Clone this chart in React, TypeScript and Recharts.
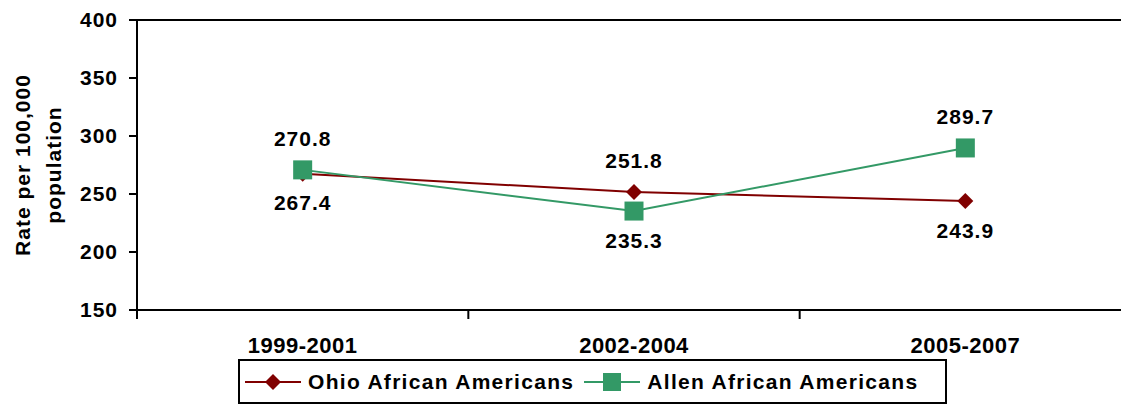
import React from 'react';
import {
  LineChart,
  Line,
  XAxis,
  YAxis,
  ReferenceLine,
  LabelList,
} from 'recharts';

const periods = ['1999-2001', '2002-2004', '2005-2007'];
const ohioRates = [267.4, 251.8, 243.9];
const allenRates = [270.8, 235.3, 289.7];
const ohioLabelSide = ['below', 'above', 'below'];
const allenLabelSide = ['above', 'below', 'above'];
const yTicks = [150, 200, 250, 300, 350, 400];
const seriesNames = ['Ohio African Americans', 'Allen African Americans'];

const OHIO = '#800000';
const ALLEN = '#339966';
const FONT = '"Liberation Sans", Arial, sans-serif';

const data = periods.map((p, i) => ({ x: i, ohio: ohioRates[i], allen: allenRates[i] }));
// band edges get a tick mark, band centres get the period label
const xTicks = [-0.5, 0, 0.5, 1, 1.5, 2, 2.5];

const Diamond = ({ cx, cy, size = 8 }: any) => (
  <path d={`M${cx},${cy - size}L${cx + size},${cy}L${cx},${cy + size}L${cx - size},${cy}Z`} fill={OHIO} />
);

const Square = ({ cx, cy, size = 9.5 }: any) => (
  <rect x={cx - size} y={cy - size} width={size * 2} height={size * 2} fill={ALLEN} />
);

const PeriodTick = ({ x, y, payload }: any) => {
  const v = payload.value;
  if (!Number.isInteger(v)) {
    return <line x1={x} y1={y} x2={x} y2={y + 9} stroke="#000" strokeWidth={2} />;
  }
  return (
    <text x={x} y={y + 35} textAnchor="middle" dominantBaseline="central"
      fontSize={22} fontWeight="bold" fontFamily={FONT} letterSpacing={0.5} fill="#000">
      {periods[v]}
    </text>
  );
};

const makeLabel = (sides: string[]) => (props: any) => {
  const { x, y, value, index } = props;
  const dy = sides[index] === 'above' ? -31 : 29;
  return (
    <text x={x} y={y + dy} textAnchor="middle" dominantBaseline="central"
      fontSize={21} fontWeight="bold" fontFamily={FONT} letterSpacing={1} fill="#000">
      {value.toFixed(1)}
    </text>
  );
};

const YTitle = ({ viewBox }: any) => {
  const cy = viewBox.y + viewBox.height / 2;
  const lines = ['Rate per 100,000', 'population'];
  return (
    <g>
      {lines.map((t, i) => {
        const cx = viewBox.x + 22 + i * 31;
        return (
          <text key={t} x={cx} y={cy} transform={`rotate(-90, ${cx}, ${cy})`}
            textAnchor="middle" dominantBaseline="central"
            fontSize={21} fontWeight="bold" fontFamily={FONT} letterSpacing={1} fill="#000">
            {t}
          </text>
        );
      })}
    </g>
  );
};

const LegendBox = () => (
  <div style={{
    position: 'absolute', left: 238, top: 359, width: 709, height: 45,
    boxSizing: 'border-box', border: '2px solid #000', background: '#fff',
    display: 'flex', alignItems: 'center', fontFamily: FONT, fontWeight: 'bold',
    fontSize: 21, letterSpacing: 1.3, color: '#000',
  }}>
    {seriesNames.map((name, i) => (
      <div key={name} style={{ display: 'flex', alignItems: 'center', marginLeft: i === 0 ? 5 : 10 }}>
        <svg width={56} height={22} style={{ marginRight: 7 }}>
          <line x1={0} y1={11} x2={56} y2={11} stroke={i === 0 ? OHIO : ALLEN} strokeWidth={2} />
          {i === 0 ? <Diamond cx={28} cy={11} size={8} /> : <Square cx={28} cy={11} size={9} />}
        </svg>
        <span>{name}</span>
      </div>
    ))}
  </div>
);

export default function App() {
  return (
    <div style={{ position: 'fixed', left: 0, top: 0, width: 1121, height: 405, overflow: 'hidden', background: '#fff' }}>
      <LineChart width={1140} height={405} data={data} margin={{ top: 20, right: 9, left: 0, bottom: 0 }}>
        <XAxis
          dataKey="x"
          type="number"
          domain={[-0.5, 2.5]}
          ticks={xTicks}
          interval={0}
          height={95}
          tickLine={false}
          tickSize={0}
          tickMargin={0}
          axisLine={{ stroke: '#000', strokeWidth: 2 }}
          tick={<PeriodTick />}
        />
        <YAxis
          domain={[150, 400]}
          ticks={yTicks}
          interval={0}
          width={137}
          tickSize={8}
          tickMargin={11}
          axisLine={{ stroke: '#000', strokeWidth: 2 }}
          tickLine={{ stroke: '#000', strokeWidth: 2 }}
          tick={{ fill: '#000', fontSize: 21, fontWeight: 'bold', fontFamily: FONT, letterSpacing: 1 }}
          label={<YTitle />}
        />
        <ReferenceLine y={400} stroke="#000" strokeWidth={2} />
        <Line
          dataKey="ohio"
          stroke={OHIO}
          strokeWidth={2}
          dot={<Diamond />}
          activeDot={false}
          isAnimationActive={false}
        >
          <LabelList dataKey="ohio" content={makeLabel(ohioLabelSide)} />
        </Line>
        <Line
          dataKey="allen"
          stroke={ALLEN}
          strokeWidth={2}
          dot={<Square />}
          activeDot={false}
          isAnimationActive={false}
        >
          <LabelList dataKey="allen" content={makeLabel(allenLabelSide)} />
        </Line>
      </LineChart>
      <LegendBox />
    </div>
  );
}
